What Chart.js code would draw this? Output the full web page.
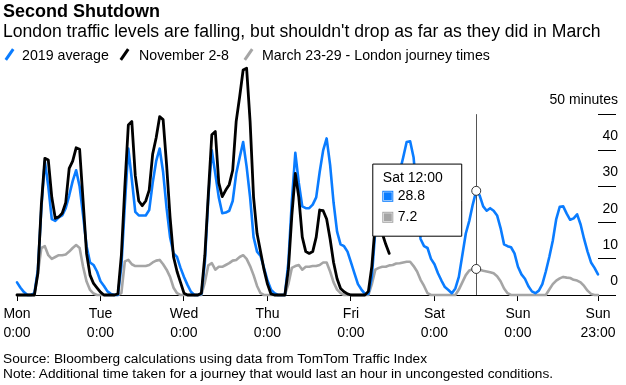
<!DOCTYPE html>
<html><head><meta charset="utf-8">
<script src="https://cdn.jsdelivr.net/npm/chart.js@4.4.0/dist/chart.umd.min.js"></script>
<style>
html,body{margin:0;padding:0;background:#fff;}
#wrap{position:relative;width:626px;height:385px;overflow:hidden;font-family:"Liberation Sans",Arial,sans-serif;color:#000;}
#c{position:absolute;left:0;top:0;}
.t{position:absolute;white-space:nowrap;}
#title{left:3px;top:1px;font-size:18px;line-height:20px;font-weight:bold;}
#sub{left:3px;top:21px;font-size:17.6px;line-height:20px;}
.lt{top:47px;font-size:14.2px;line-height:16px;}
.sl{position:absolute;top:48px;width:3px;height:13px;transform:rotate(35deg);}
#f1{left:3px;top:351px;font-size:13.7px;line-height:15px;}
#f2{left:3px;top:366px;font-size:13.7px;line-height:15px;}
</style></head>
<body><div id="wrap">
<canvas id="c" width="626" height="385"></canvas>
<div class="t" id="title">Second Shutdown</div>
<div class="t" id="sub">London traffic levels are falling, but shouldn't drop as far as they did in March</div>
<span class="sl" style="left:8px;background:#0a7cff"></span><div class="t lt" style="left:22px">2019 average</div>
<span class="sl" style="left:123px;background:#000"></span><div class="t lt" style="left:139px">November 2-8</div>
<span class="sl" style="left:247px;background:#a5a5a5"></span><div class="t lt" style="left:262px">March 23-29 - London journey times</div>
<div class="t" id="f1">Source: Bloomberg calculations using data from TomTom Traffic Index</div>
<div class="t" id="f2">Note: Additional time taken for a journey that would last an hour in uncongested conditions.</div>
</div>
<script>
const days = ['Mon','Tue','Wed','Thu','Fri','Sat','Sun'];
const hours = ['0:00','1:00','2:00','3:00','4:00','5:00','6:00','7:00','8:00','9:00','10:00','11:00','12:00','13:00','14:00','15:00','16:00','17:00','18:00','19:00','20:00','21:00','22:00','23:00'];
const xTickIndex = [0,24,48,72,96,120,144,167];
const yTickValues = [0,10,20,30,40,50];
const yTickLabels = ['0','10','20','30','40','50 minutes'];
const hoverIndex = 132;

const avg2019 = [
 3.5,2,0.8,0,0,0.5,7,24,37,30,21,20.5,21.5,22,24,27.5,31.5,34.5,30,22,13.5,9,8.3,6.5,
 3.8,2.5,1,0.3,0,0,8,25,40.5,32,23,22,22,22,23.5,31,37,40.5,34,24,16,11.5,10.5,7.5,
 5,2.8,0.9,0,0,0.3,9,27,40,33.5,27,22.6,22.8,23.3,26,33.5,38,42.3,35.5,27,16,12,10.8,7.5,
 4,1.5,0.5,0,0,0,9,26,39.3,31,24.5,24,24,25,27,34,40,43.3,36,25.5,17.5,14,13.5,12,
 9,6,3,1.5,0.3,0.3,5,18,30,28,25,25,26,29,34,38,42.3,42.5,38,27,15.5,13.5,13,10,
 8.5,6,4,2.2,1.4,0.5,1.8,5,11,17,20.5,25,28.8,27.5,24.5,23.3,24,23.3,22,18.5,14,13.5,13.2,11.5,
 7.8,5.7,4.5,2.4,1,0.5,1.2,3,6.5,10.5,15,21,24.4,24.5,22.5,20.8,21.2,22.3,19.5,15.5,12,9,7.5,5.7
];
const nov2to8 = [
 0,0,0,0,0,0,6,25,37.8,37.3,27,21.2,21.6,22.6,25.5,35,37,40.7,40.3,26,11.5,5.5,3.2,2,
 0.8,0,0,0,0,0.3,11,30,47,48,33,26,24.7,26,29,39,43.5,49.3,48.5,36,21.5,10.5,6.5,3.5,
 0.5,0,0,0,0,0.5,11,28,44.3,45.2,31,27.2,29,30.5,34.5,48,54.8,62.2,62.7,48,27,17,12,7,
 3,0.3,0,0,0,0,7,22,33.6,27,16,12,11.5,12,16,23.5,23.3,21,15.5,9,4.5,1.8,0.9,0.3,
 0,0,0,0,0,1,8,20,22,17,14,11.5
];
const mar23to29 = [
 0,0,0,0,0,0,6,13,13.5,11,10,10.5,11,11,11.2,12,13,13.8,13,7.8,3.7,1.4,0.4,0,
 0,0,0,0,0,0,0.5,9.3,9.7,8.5,8,8,8,8,8.3,9,9.5,9.7,8.5,7,5,2,0.5,0,
 0,0,0,0,0,0,3.5,8.2,8.8,7,7.8,7.8,8.3,8.8,9.5,9.7,10.5,11,10,8,5.5,2.5,0.5,0,
 0,0,0,0,0,0,3,7.5,8,8.3,7,7.8,7.8,8,8,8.3,9,9,6.5,3.5,1.5,0.5,0,0,
 0,0,0,0,0,0,3,7,7.5,7.8,7.8,8.2,8.3,8.7,8.8,9,9.2,9.2,8,6.5,4.2,2.5,0.5,0,
 0,0,0,0,0,0,0,1.5,3.5,5.5,6.8,7.1,7.2,7,6.7,6.5,6.3,6,5.2,3.8,1.8,0.5,0,0,
 0,0,0,0,0,0,0,0,0,1.5,3,4,4.6,5,4.8,4.7,4.2,4,3.5,2.5,1.2,0.3,0,0
];

const labels = [];
days.forEach(d => hours.forEach(h => labels.push(d + ' ' + h)));
const novData = labels.map((_, i) => i < nov2to8.length ? nov2to8[i] : null);

const BLUE = '#0a7cff', GRAY = '#a5a5a5', BLACK = '#000000';
const FONT = '"Liberation Sans", Arial, sans-serif';

Chart.Tooltip.positioners.leftOfPoint = function(items) {
  if (!items.length) return false;
  const el = items[0].element;
  return {x: el.x - 14.5, y: el.y + 9.3, xAlign: 'right', yAlign: 'center'};
};

const crosshair = {
  id: 'crosshair',
  beforeDatasetsDraw(chart) {
    const act = chart.getActiveElements();
    if (!act.length) return;
    const x = Math.round(act[0].element.x) + 0.5;
    const ys = chart.scales.y;
    const c = chart.ctx;
    c.save();
    c.strokeStyle = '#555';
    c.lineWidth = 1;
    c.beginPath();
    c.moveTo(x, ys.getPixelForValue(50));
    c.lineTo(x, ys.getPixelForValue(0));
    c.stroke();
    c.restore();
  }
};

const common = {pointRadius: 0, pointHoverRadius: 4.5, pointHoverBorderWidth: 1,
  pointHoverBackgroundColor: '#fff', pointHoverBorderColor: '#333', tension: 0, fill: false,
  clip: false, borderJoinStyle: 'round', borderCapStyle: 'round', spanGaps: false};

const chart = new Chart(document.getElementById('c'), {
  type: 'line',
  data: {
    labels: labels,
    datasets: [
      Object.assign({label: '2019 average', data: avg2019, borderColor: BLUE, backgroundColor: BLUE, borderWidth: 2.6, order: 1}, common),
      Object.assign({label: 'November 2-8', data: novData, borderColor: BLACK, backgroundColor: BLACK, borderWidth: 2.8, order: 0}, common),
      Object.assign({label: 'March 23-29 - London journey times', data: mar23to29, borderColor: GRAY, backgroundColor: GRAY, borderWidth: 2.6, order: 2}, common)
    ]
  },
  options: {
    responsive: false,
    animation: false,
    devicePixelRatio: 1,
    events: [],
    layout: {padding: {left: 17, right: 8, top: 78, bottom: 40}},
    plugins: {
      legend: {display: false},
      title: {display: false},
      tooltip: {
        enabled: true,
        position: 'leftOfPoint',
        backgroundColor: '#fff',
        borderColor: '#000',
        borderWidth: 1,
        cornerRadius: 0,
        caretSize: 0,
        caretPadding: 0,
        titleColor: '#000',
        bodyColor: '#000',
        titleFont: {family: FONT, size: 14, weight: 'normal'},
        bodyFont: {family: FONT, size: 14},
        padding: {left: 10, right: 19, top: 6, bottom: 10.5},
        titleMarginBottom: 1,
        bodySpacing: 4.2,
        boxWidth: 10,
        boxHeight: 10,
        boxPadding: 3,
        displayColors: true,
        callbacks: {
          title: items => labels[items[0].dataIndex],
          label: item => item.raw.toFixed(1),
          labelColor: item => ({borderColor: item.dataset.borderColor, backgroundColor: item.dataset.borderColor, borderWidth: 0})
        }
      }
    },
    scales: {
      x: {
        type: 'category',
        offset: false,
        border: {display: true, color: '#000', width: 1},
        grid: {display: true, drawOnChartArea: false, drawTicks: true, tickLength: 6, color: '#000', offset: false},
        ticks: {autoSkip: false, maxRotation: 0, minRotation: 0, padding: 3, color: '#000',
          font: {family: FONT, size: 14, lineHeight: 1.4},
          callback: function(v) { return labels[v].split(' '); }},
        afterBuildTicks: s => { s.ticks = xTickIndex.map(i => ({value: i})); },
        afterFit: s => { s.height = 50; }
      },
      y: {
        position: 'right',
        min: 0, max: 60,
        border: {display: false},
        grid: {display: true, drawOnChartArea: false, drawTicks: true, tickLength: 18, color: '#000'},
        ticks: {color: '#000', font: {family: FONT, size: 14}, crossAlign: 'far', labelOffset: -14, padding: 0,
          callback: function(v) { const k = yTickValues.indexOf(v); return k >= 0 ? yTickLabels[k] : ''; }},
        afterBuildTicks: s => { s.ticks = yTickValues.map(v => ({value: v})); },
        afterFit: s => { s.width = 20; s._computeLabelArea = () => undefined; }
      }
    }
  },
  plugins: [crosshair]
});

const act = [{datasetIndex: 0, index: hoverIndex}, {datasetIndex: 2, index: hoverIndex}];
chart.setActiveElements(act);
chart.tooltip.setActiveElements(act, {x: 0, y: 0});
chart.render();
</script>
</body></html>
